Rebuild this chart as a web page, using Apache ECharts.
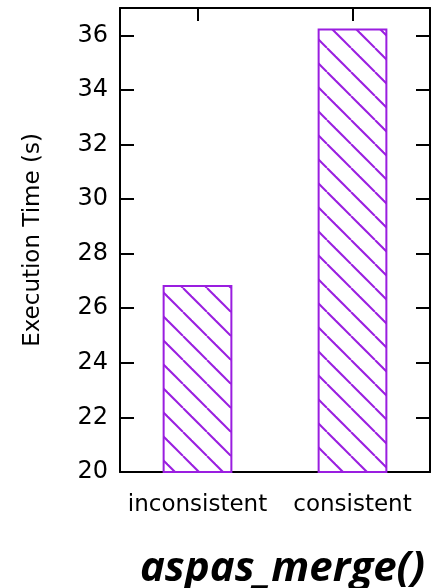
<!DOCTYPE html>
<html>
<head>
    <meta charset="utf-8"/>
    <title>aspas_merge()</title>
    <script src="https://cdn.jsdelivr.net/npm/echarts@6/dist/echarts.min.js"></script>
    <style>
        html, body { margin: 0; padding: 0; background: #fff; }
        #main { width: 435px; height: 588px; }
    </style>
</head>
<body>
<div id="main"></div>
<script>
    // data
    var categories = ['inconsistent', 'consistent'];
    var execTimes = [26.85, 36.25];
    var yMin = 20, yMax = 37, yStep = 2;

    var violet = '#9a1ee0';

    // hatch tile, lines going down to the right
    function hatchTile() {
        var s = 24;
        var c = document.createElement('canvas');
        c.width = s; c.height = s;
        var ctx = c.getContext('2d');
        ctx.fillStyle = '#fff';
        ctx.fillRect(0, 0, s, s);
        ctx.strokeStyle = violet;
        ctx.lineWidth = 2;
        [-9, 15].forEach(function (k) {
            ctx.beginPath();
            ctx.moveTo(k, 0);
            ctx.lineTo(k + s, s);
            ctx.stroke();
        });
        return c;
    }

    var font = 'DejaVu Sans';
    var fs = 23;
    var axisLine = { show: true, lineStyle: { color: '#000', width: 2 } };

    var chart = echarts.init(document.getElementById('main'));
    chart.setOption({
        animation: false,
        title: {
            text: 'aspas_merge()',
            right: 5,
            top: 543,
            textStyle: {
                fontFamily: 'Open Sans',
                fontStyle: 'italic',
                fontWeight: 'bold',
                fontSize: 42,
                color: '#000'
            }
        },
        grid: { left: 120, right: 5, top: 8, bottom: 116 },
        xAxis: [{
            type: 'category',
            data: categories,
            position: 'bottom',
            axisLine: axisLine,
            axisTick: { show: false },
            axisLabel: { fontFamily: font, fontSize: fs, color: '#000', margin: 22, interval: 0, hideOverlap: false }
        }, {
            type: 'category',
            data: categories,
            position: 'top',
            axisLine: axisLine,
            axisTick: { show: true, inside: true, alignWithLabel: true, length: 13, lineStyle: { color: '#000', width: 2 } },
            axisLabel: { show: false }
        }],
        yAxis: [{
            type: 'value',
            min: yMin,
            max: yMax,
            interval: yStep,
            name: 'Execution Time (s)',
            nameLocation: 'middle',
            nameGap: 75,
            nameTextStyle: { fontFamily: font, fontSize: fs, color: '#000' },
            axisLine: axisLine,
            axisTick: { show: true, inside: true, length: 14, lineStyle: { color: '#000', width: 2 } },
            axisLabel: { fontFamily: font, fontSize: fs + 1, color: '#000', margin: 12, showMaxLabel: false },
            splitLine: { show: false }
        }, {
            type: 'value',
            min: yMin,
            max: yMax,
            interval: yStep,
            position: 'right',
            axisLine: axisLine,
            axisTick: { show: true, inside: true, length: 14, lineStyle: { color: '#000', width: 2 } },
            axisLabel: { show: false },
            splitLine: { show: false }
        }],
        series: [{
            type: 'bar',
            data: execTimes,
            barWidth: '45%',
            itemStyle: {
                color: { image: hatchTile(), repeat: 'repeat' },
                borderColor: violet,
                borderWidth: 2
            }
        }]
    });

    window.onresize = function () {
        chart.resize();
    };
</script>
</body>
</html>
